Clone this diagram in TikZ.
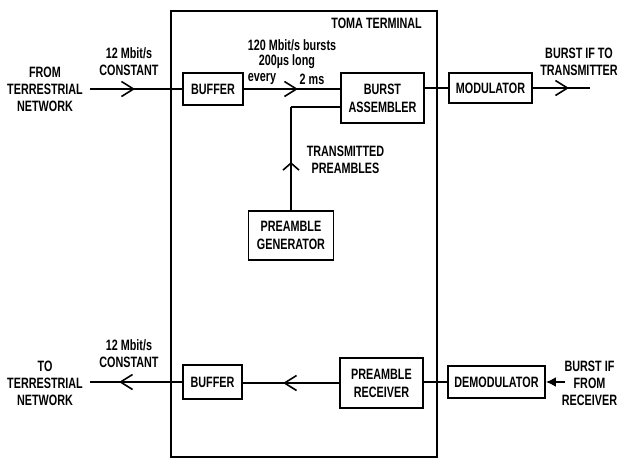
\documentclass[tikz,border=0pt]{standalone}
\usepackage{fontspec}
\setmainfont{Liberation Sans}[FakeStretch=0.72,BoldFont={Liberation Sans Bold},BoldFeatures={FakeStretch=0.72}]
\usetikzlibrary{arrows.meta,decorations.markings}
\tikzset{
  lbl/.style={font=\fontsize{15}{17}\selectfont\bfseries, align=center, inner sep=0pt},
  blk/.style={draw, line width=1.9pt, font=\fontsize{15}{18}\selectfont\bfseries, align=center, inner sep=0pt},
  wire/.style={line width=1.7pt},
  chev/.style={postaction={decorate,decoration={markings,
     mark=at position #1 with {\arrow[line width=1.6pt]{Straight Barb[length=12pt,width=15pt]}}}}},
  chevup/.style={postaction={decorate,decoration={markings,
     mark=at position #1 with {\arrow[line width=1.6pt]{Straight Barb[length=7pt,width=16pt]}}}}},
}
\begin{document}
\begin{tikzpicture}[x=1pt,y=-1pt]
\useasboundingbox (0,0) rectangle (622,459);
% terminal frame
\node[draw, line width=1.7pt, minimum width=266pt, minimum height=446pt, inner sep=0pt] (term) at (304,234) {};
\node[lbl, anchor=east] (termlbl) at (422,23) {TOMA TERMINAL};
% blocks
\node[blk, minimum width=60pt, minimum height=32pt] (buf1) at (213,89) {BUFFER};
\node[blk, minimum width=83pt, minimum height=50pt] (ba) at (382.5,98) {BURST\\ASSEMBLER};
\node[blk, minimum width=83pt, minimum height=30pt] (mod) at (490.5,88) {MODULATOR};
\node[blk, minimum width=85pt, minimum height=49pt] (pg) at (291,235.5) {PREAMBLE\\GENERATOR};
\node[blk, minimum width=59pt, minimum height=34pt] (buf2) at (212.5,382) {BUFFER};
\node[blk, minimum width=83pt, minimum height=50pt] (pr) at (381.5,383) {PREAMBLE\\RECEIVER};
\node[blk, minimum width=97pt, minimum height=32pt] (dem) at (496.5,382) {DEMODULATOR};
% free ends
\coordinate (inL) at (90,89);
\coordinate (outR) at (590,88);
\coordinate (outL) at (90,382);
\coordinate (inR) at (565,382);
\coordinate (pre) at (291,107);
% connectors
\draw[wire, chev=45pt] (inL) -- (buf1.west);
\draw[wire, chev=54pt] (buf1.east) -- (buf1.east -| ba.west);
\draw[wire] (mod.west -| ba.east) -- (mod.west);
\draw[wire, chev=36pt] (mod.east) -- (outR);
\draw[wire, chevup=48pt] (pg.north) -- (pre);
\draw[wire] (pre) -- (pre -| ba.west);
\draw[wire, chev=56pt] (pr.west) -- (pr.west -| buf2.east);
\draw[wire, chev=63pt] (buf2.west) -- (outL);
\draw[wire] (dem.west -| pr.east) -- (dem.west);
\draw[wire, -{Latex[length=10pt,width=10pt]}] (inR) -- (dem.east);
% labels
\node[lbl] (fromnet) at (45,89) {FROM\\TERRESTRIAL\\NETWORK};
\node[lbl] (rate1) at (129,61.5) {12 Mbit/s\\CONSTANT};
\node[lbl] (bursts) at (292,45) {120 Mbit/s bursts};
\node[lbl] (long) at (287,62) {200µs long};
\node[lbl] (every) at (262,79) {every};
\node[lbl] (twoms) at (312,79) {2 ms};
\node[lbl] (txpre) at (345.5,160) {TRANSMITTED\\PREAMBLES};
\node[lbl] (totx) at (579,62) {BURST IF TO\\TRANSMITTER};
\node[lbl] (tonet) at (45,383.5) {TO\\TERRESTRIAL\\NETWORK};
\node[lbl] (rate2) at (129,353.5) {12 Mbit/s\\CONSTANT};
\node[lbl] (fromrx) at (589.5,383.5) {BURST IF\\FROM\\RECEIVER};
\end{tikzpicture}
\end{document}
